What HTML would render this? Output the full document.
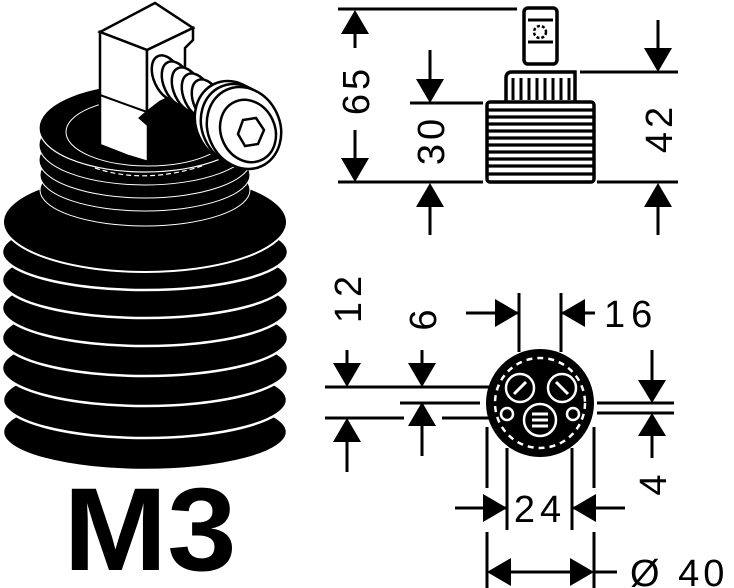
<!DOCTYPE html>
<html><head><meta charset="utf-8"><style>
html,body{margin:0;padding:0;background:#fff;}
svg{display:block;}
text{font-family:"Liberation Sans",sans-serif;fill:#000;}
</style></head><body>
<svg width="734" height="588" viewBox="0 0 734 588" xmlns="http://www.w3.org/2000/svg">
<!-- ===== Product image ===== -->
<g>
  <ellipse cx="145" cy="432" rx="142" ry="38" fill="#000" stroke="#fff" stroke-width="2.5"/>
  <ellipse cx="145" cy="400" rx="142" ry="38" fill="#000" stroke="#fff" stroke-width="2.5"/>
  <ellipse cx="145" cy="368" rx="143" ry="38" fill="#000" stroke="#fff" stroke-width="2.5"/>
  <ellipse cx="145" cy="338" rx="143" ry="38" fill="#000" stroke="#fff" stroke-width="2.5"/>
  <ellipse cx="145" cy="308" rx="143" ry="38" fill="#000" stroke="#fff" stroke-width="2.5"/>
  <ellipse cx="145" cy="280" rx="143" ry="38" fill="#000" stroke="#fff" stroke-width="2.5"/>
  <ellipse cx="145" cy="252" rx="143" ry="38" fill="#000" stroke="#fff" stroke-width="2.5"/>
  <ellipse cx="145" cy="222" rx="142" ry="50" fill="#000" stroke="#fff" stroke-width="2"/>
  <!-- upper cylinder -->
  <ellipse cx="145" cy="190" rx="105" ry="36" fill="#000" stroke="#fff" stroke-width="1"/>
  <ellipse cx="145" cy="175" rx="105" ry="36" fill="#000" stroke="#fff" stroke-width="1"/>
  <ellipse cx="145" cy="160" rx="106" ry="38" fill="#000" stroke="#fff" stroke-width="1"/>
  <ellipse cx="145" cy="145" rx="106" ry="40" fill="#000" stroke="#fff" stroke-width="1"/>
  <ellipse cx="145" cy="128" rx="106" ry="44" fill="#000" stroke="#fff" stroke-width="1.2"/>
  <ellipse cx="148" cy="132" rx="82" ry="34" fill="none" stroke="#fff" stroke-width="1"/>
  <path d="M95,168 Q145,185 205,165" fill="none" stroke="#fff" stroke-width="1.2" stroke-dasharray="5,3"/>
  <!-- block -->
  <polygon points="100,32 155,3 193,28 147,50" fill="#fff" stroke="#000" stroke-width="2.5"/>
  <polygon points="100,32 147,50 147,112 140,118 148,125 148,162 128,156 100,145" fill="#fff" stroke="#000" stroke-width="2.5"/>
  <polygon points="147,50 193,28 193,40 185,48 185,90 160,102 147,112" fill="#fff" stroke="#000" stroke-width="2.5"/>
  <line x1="100" y1="95" x2="147" y2="112" stroke="#000" stroke-width="2"/>
  <!-- screw -->
  <g fill="#fff" stroke="#000" stroke-width="2.5">
    <ellipse cx="168" cy="78" rx="14" ry="24" transform="rotate(-25 168 78)"/>
    <ellipse cx="178" cy="84" rx="14" ry="24" transform="rotate(-25 178 84)"/>
    <ellipse cx="188" cy="90" rx="14" ry="24" transform="rotate(-25 188 90)"/>
    <ellipse cx="198" cy="96" rx="14" ry="24" transform="rotate(-25 198 96)"/>
    <ellipse cx="208" cy="102" rx="14" ry="24" transform="rotate(-25 208 102)"/>
    <ellipse cx="232" cy="122" rx="36" ry="42" transform="rotate(-25 232 122)"/>
    <ellipse cx="238" cy="125" rx="36" ry="42" transform="rotate(-25 238 125)"/>
    <ellipse cx="244" cy="128" rx="36" ry="42" transform="rotate(-25 244 128)"/>
    <ellipse cx="248" cy="131" rx="27" ry="32" transform="rotate(-25 248 131)"/>
    <polygon points="243,120 256,118 264,130 258,144 245,146 238,134"/>
  </g>
  <text x="150" y="570" font-size="118" font-weight="bold" text-anchor="middle" textLength="173" lengthAdjust="spacingAndGlyphs">M3</text>
</g>

<!-- ===== Side view cartridge ===== -->
<g stroke="#000" fill="none">
  <rect x="524" y="8" width="33" height="56" rx="4" fill="#fff" stroke-width="3.5"/>
  <line x1="528" y1="20" x2="553" y2="20" stroke-width="3"/>
  <line x1="528" y1="42" x2="553" y2="42" stroke-width="3"/>
  <circle cx="540" cy="32" r="6" stroke-width="2.5" stroke-dasharray="3,2"/>
  <path d="M506,102 V78 Q506,72 512,72 H575 V102" fill="#fff" stroke-width="3.5"/>
  <g stroke-width="3">
    <line x1="513" y1="78" x2="513" y2="100"/><line x1="521" y1="78" x2="521" y2="100"/>
    <line x1="529" y1="78" x2="529" y2="100"/><line x1="537" y1="78" x2="537" y2="100"/>
    <line x1="545" y1="78" x2="545" y2="100"/><line x1="553" y1="78" x2="553" y2="100"/>
    <line x1="561" y1="78" x2="561" y2="100"/><line x1="569" y1="78" x2="569" y2="100"/>
  </g>
  <rect x="487" y="102" width="107" height="80" rx="3" fill="#fff" stroke-width="3.5"/>
  <g stroke-width="3.2">
    <line x1="487" y1="110" x2="594" y2="110"/><line x1="487" y1="117" x2="594" y2="117"/>
    <line x1="487" y1="124" x2="594" y2="124"/><line x1="487" y1="131" x2="594" y2="131"/>
    <line x1="487" y1="138" x2="594" y2="138"/><line x1="487" y1="145" x2="594" y2="145"/>
    <line x1="487" y1="152" x2="594" y2="152"/><line x1="487" y1="159" x2="594" y2="159"/>
    <line x1="487" y1="166" x2="594" y2="166"/><line x1="487" y1="174" x2="594" y2="174"/>
  </g>
</g>
<g stroke="#000" stroke-width="3" fill="none">
  <path d="M338,9 H517 M338,182 H483 M597,182 H678 M410,103 H483 M580,72 H678"/>
  <path d="M355,34 V48 M355,130 V158 M430,50 V80 M430,207 V235 M658,20 V48 M658,207 V235"/>
</g>
<g fill="#000">
  <polygon points="355,10 341,34 369,34"/>
  <polygon points="341,158 369,158 355,182"/>
  <polygon points="416,79 444,79 430,103"/>
  <polygon points="416,207 444,207 430,183"/>
  <polygon points="644,48 672,48 658,72"/>
  <polygon points="644,207 672,207 658,183"/>
</g>
<text font-size="38" text-anchor="middle" transform="translate(369,90) rotate(-90)" letter-spacing="4">65</text>
<text font-size="38" text-anchor="middle" transform="translate(444,140) rotate(-90)" letter-spacing="4">30</text>
<text font-size="38" text-anchor="middle" transform="translate(672,128) rotate(-90)" letter-spacing="4">42</text>

<!-- ===== End view ===== -->
<circle cx="540" cy="403" r="54" fill="#000"/>
<g fill="#000" stroke="#fff" stroke-width="2.5">
  <circle cx="540" cy="403" r="45" fill="none" stroke-dasharray="6,5"/>
  <circle cx="520" cy="388" r="14"/>
  <circle cx="562" cy="388" r="14"/>
  <circle cx="540" cy="420" r="16"/>
  <circle cx="507" cy="414" r="6"/>
  <circle cx="573" cy="414" r="6"/>
</g>
<g stroke="#fff" stroke-width="3">
  <line x1="532" y1="414" x2="548" y2="414"/><line x1="532" y1="420" x2="548" y2="420"/><line x1="532" y1="426" x2="548" y2="426"/>
  <line x1="514" y1="394" x2="526" y2="382"/><line x1="556" y1="382" x2="568" y2="394"/>
</g>
<g stroke="#000" stroke-width="3" fill="none">
  <path d="M519,293 V352 M561,293 V352 M466,313 H519 M561,313 H595"/>
  <path d="M325,387 H490 M325,418 H404 M442,418 H490 M400,403 H480"/>
  <path d="M347,350 V363 M347,442 V472 M422,350 V363 M422,425 V456"/>
  <path d="M597,403 H674 M597,413 H674 M652,350 V380 M652,436 V458"/>
  <path d="M507,448 V530 M572,448 V530 M455,508 H507 M572,508 H625"/>
  <path d="M487,427 V488 M594,427 V488 M487,532 V588 M594,532 V588 M511,572 H570 M594,572 H617"/>
</g>
<g fill="#000">
  <polygon points="495,299 495,327 519,313"/>
  <polygon points="585,299 585,327 561,313"/>
  <polygon points="333,363 361,363 347,387"/>
  <polygon points="333,442 361,442 347,418"/>
  <polygon points="408,363 436,363 422,387"/>
  <polygon points="408,426 436,426 422,402"/>
  <polygon points="638,380 666,380 652,403"/>
  <polygon points="638,436 666,436 652,413"/>
  <polygon points="483,494 483,522 507,508"/>
  <polygon points="596,494 596,522 572,508"/>
  <polygon points="511,558 511,586 487,572"/>
  <polygon points="570,558 570,586 594,572"/>
</g>
<text x="604" y="327" font-size="38" letter-spacing="6">16</text>
<text x="540" y="522" font-size="38" text-anchor="middle" letter-spacing="5">24</text>
<text x="630" y="586" font-size="38" letter-spacing="4">Ø 40</text>
<text font-size="38" text-anchor="middle" transform="translate(361,297) rotate(-90)" letter-spacing="5">12</text>
<text font-size="38" text-anchor="middle" transform="translate(436,320) rotate(-90)">6</text>
<text font-size="38" text-anchor="middle" transform="translate(666,485) rotate(-90)">4</text>
</svg>
</body></html>
